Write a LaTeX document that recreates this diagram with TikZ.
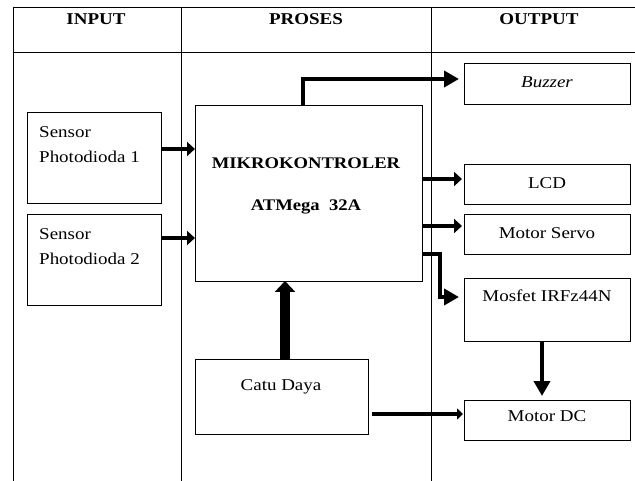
\documentclass[tikz,border=0pt]{standalone}
\usepackage{fontspec}
\setmainfont{Liberation Serif}[FakeStretch=1.15]
\usetikzlibrary{arrows.meta,calc,positioning}
\tikzset{
	blok/.style={draw, line width=.9pt, inner sep=0pt, outer sep=0pt},
	grid line/.style={line width=.8pt},
	txt/.style={font=\fontsize{16.5}{19}\selectfont, inner sep=0pt},
	head/.style={font=\bfseries\fontsize{16.5}{20}\selectfont, inner sep=0pt},
	mktxt/.style={font=\bfseries\fontsize{16.2}{20}\selectfont, inner sep=0pt},
	flow/.style={line width=4.5pt, -{Triangle[length=8pt,width=14pt]}},
	flow big/.style={line width=4pt, -{Triangle[length=15pt,width=16pt]}},
	power/.style={line width=10pt, -{Triangle[length=11pt,width=20pt]}}
}

\begin{document}
\begin{tikzpicture}[x=1pt, y=-1pt]
  \useasboundingbox (0,0) rectangle (635,481);
  % table
  \draw[grid line] (13,7) -- (635,7) (13,52) -- (635,52);
  \draw[grid line] (13,7) -- (13,481) (181,7) -- (181,481) (431,7) -- (431,481);
  \node[head] (hin) at (96,19) {INPUT};
  \node[head] (hpr) at (306,19) {PROSES};
  \node[head] (hout) at (539,19) {OUTPUT};
  % blocks
  \node[blok, minimum width=134pt, minimum height=91pt] (s1) at (94,157.5) {};
  \node[blok, minimum width=134pt, minimum height=91pt] (s2) at (94,259.5) {};
  \node[blok, minimum width=227pt, minimum height=176pt] (mk) at (308.5,193) {};
  \node[blok, minimum width=173pt, minimum height=75pt] (catu) at (281.5,396.5) {};
  \node[blok, minimum width=166pt, minimum height=41pt] (buz) at (547,83.5) {};
  \node[blok, minimum width=166pt, minimum height=40pt] (lcd) at (547,184) {};
  \node[blok, minimum width=166pt, minimum height=40pt] (servo) at (547,234) {};
  \node[blok, minimum width=166pt, minimum height=63pt] (mos) at (547,309.5) {};
  \node[blok, minimum width=166pt, minimum height=40pt] (mdc) at (547,420) {};
  % texts
  \node[txt, anchor=west] (s1a) at (39,132) {Sensor};
  \node[txt, anchor=west] (s1b) at (39,157) {Photodioda 1};
  \node[txt, anchor=west] (s2a) at (39,234) {Sensor};
  \node[txt, anchor=west] (s2b) at (39,259) {Photodioda 2};
  \node[mktxt] (mka) at (306,163) {MIKROKONTROLER};
  \node[mktxt] (mkb) at (306,207) {ATMega\ \ 32A};
  \node[txt] (catut) at (281,387) {Catu Daya};
  \node[txt, font=\itshape\fontsize{16.5}{19}\selectfont] (buzt) at (547,82) {Buzzer};
  \node[txt] (lcdt) at (547,183) {LCD};
  \node[txt] (servot) at (547,233) {Motor Servo};
  \node[txt] (most) at (547,296) {Mosfet IRFz44N};
  \node[txt] (mdct) at (547,416) {Motor DC};
  % connectors
  \draw[flow] (s1.east |- 0,149) -- (mk.west |- 0,149);
  \draw[flow] (s2.east |- 0,238) -- (mk.west |- 0,238);
  \draw[flow big, shorten >=5pt] (303,0 |- mk.north) -- (303,79) -- (buz.west |- 0,79);
  \draw[flow, line width=4pt, shorten >=2pt] (mk.east |- 0,179) -- (lcd.west |- 0,179);
  \draw[flow, line width=4pt, shorten >=2pt] (mk.east |- 0,226) -- (servo.west |- 0,226);
  \draw[flow big, shorten >=5pt] (mk.east |- 0,254) -- (440,254) -- (440,297) -- (mos.west |- 0,297);
  \draw[power] (285,0 |- catu.north) -- (285,0 |- mk.south);
  \draw[flow big, shorten >=4pt] (542,0 |- mos.south) -- (542,0 |- mdc.north);
  \draw[flow, line width=4pt, -{Triangle[length=6pt,width=11pt]}, shorten <=4pt, shorten >=1pt]
    (catu.east |- 0,414) -- (mdc.west |- 0,414);
\end{tikzpicture}
\end{document}
